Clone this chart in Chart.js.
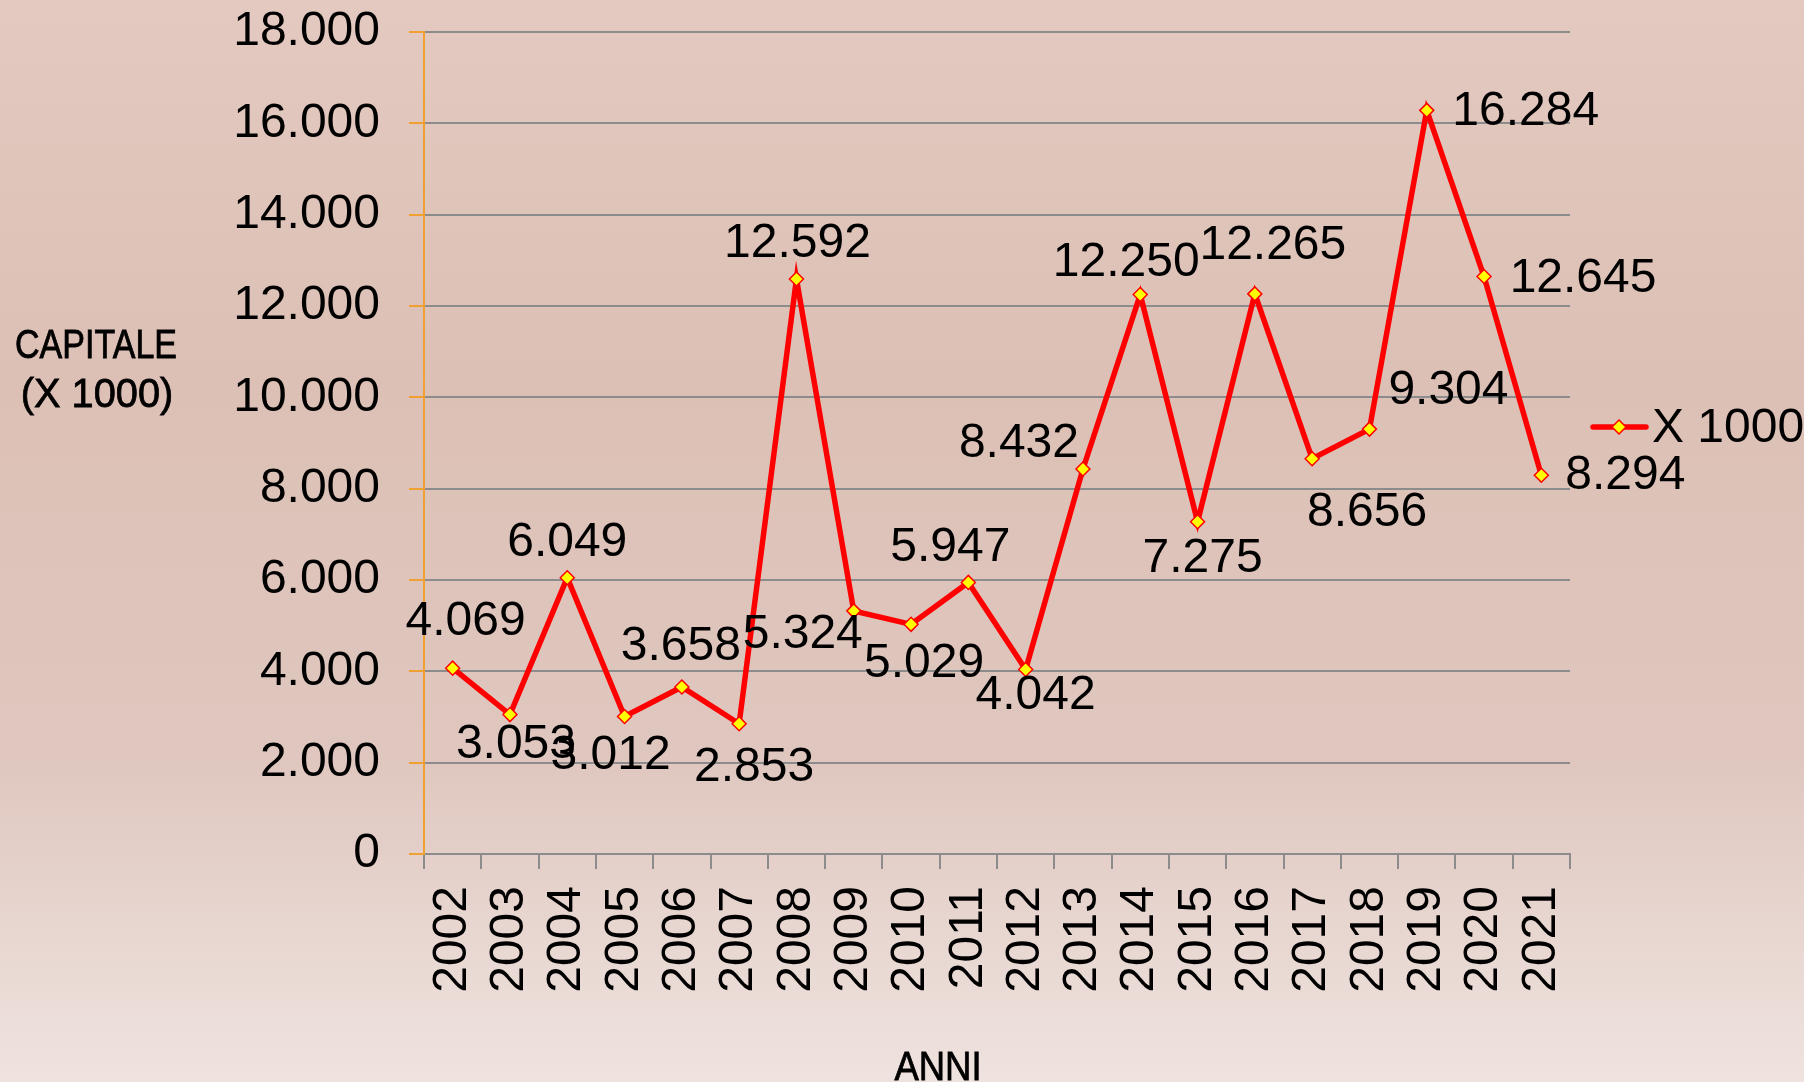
<!DOCTYPE html>
<html>
<head>
<meta charset="utf-8">
<script src="https://cdn.jsdelivr.net/npm/chart.js@4.4.1/dist/chart.umd.min.js"></script>
<style>
  html, body { margin: 0; padding: 0; background: #e6d3cd; }
  canvas { display: block; }
</style>
</head>
<body>
<canvas id="capitale-chart" width="1804" height="1082"></canvas>
<script>
// Dati
var anni = ['2002', '2003', '2004', '2005', '2006', '2007', '2008', '2009', '2010', '2011',
            '2012', '2013', '2014', '2015', '2016', '2017', '2018', '2019', '2020', '2021'];
var capitale = [4069, 3053, 6049, 3012, 3658, 2853, 12592, 5324, 5029, 5947,
                4042, 8432, 12250, 7275, 12265, 8656, 9304, 16284, 12645, 8294];
var serieLabel = 'X 1000';
var yTitle = ['CAPITALE', '(X 1000)'];
var xTitle = 'ANNI';

// offset delle etichette rispetto al punto (px)
var labelOffsets = [
  [13, -46], [6, 30], [0, -35], [-14, 39], [-1, -40], [15, 44], [1, -35], [-51, 24], [13, 39], [-18, -35],
  [10, 26], [-64, -25], [-14, -32], [5, 37], [18, -48], [55, 54], [79, -38], [99, 1], [99, 2], [84, 1]
];

var mainFont = '"Liberation Sans", Arial, sans-serif';

function fmt(v) {
  return String(Math.round(v)).replace(/\B(?=(\d{3})+(?!\d))/g, '.');
}

function diamond(ctx, x, y, r) {
  ctx.beginPath();
  ctx.moveTo(x - r, y);
  ctx.lineTo(x, y - r);
  ctx.lineTo(x + r, y);
  ctx.lineTo(x, y + r);
  ctx.closePath();
  ctx.fillStyle = '#ffff00';
  ctx.fill();
  ctx.lineWidth = 1.5;
  ctx.strokeStyle = '#ff0000';
  ctx.stroke();
}

// testo stretto (titoli assi)
function narrowText(ctx, txt, x, y, sx) {
  ctx.save();
  ctx.translate(x, y);
  ctx.scale(sx, 1);
  ctx.fillText(txt, 0, 0);
  ctx.lineWidth = 0.8;
  ctx.strokeStyle = '#000';
  ctx.strokeText(txt, 0, 0);
  ctx.restore();
}

// sfondo sfumato
var sfondo = {
  id: 'sfondo',
  beforeDraw: function (chart) {
    var ctx = chart.ctx;
    var g = ctx.createLinearGradient(0, 0, 0, chart.height);
    g.addColorStop(0, '#e3c9c0');
    g.addColorStop(0.35, '#dcc0b5');
    g.addColorStop(0.7, '#dfc7bf');
    g.addColorStop(1, '#efe3df');
    ctx.save();
    ctx.fillStyle = g;
    ctx.fillRect(0, 0, chart.width, chart.height);
    ctx.restore();
  }
};

// etichette valori, titoli assi e legenda
var extra = {
  id: 'extra',
  afterDatasetsDraw: function (chart) {
    var ctx = chart.ctx;
    var meta = chart.getDatasetMeta(0);
    ctx.save();
    ctx.fillStyle = '#000';
    ctx.font = '48px ' + mainFont;
    ctx.textAlign = 'center';
    ctx.textBaseline = 'middle';
    meta.data.forEach(function (pt, i) {
      var o = labelOffsets[i];
      ctx.fillText(fmt(capitale[i]), pt.x + o[0], pt.y + o[1]);
    });

    // titolo asse y
    ctx.textBaseline = 'alphabetic';
    ctx.font = '41px ' + mainFont;
    narrowText(ctx, yTitle[0], 96, 358, 0.83);
    narrowText(ctx, yTitle[1], 97, 407, 0.97);
    // titolo asse x
    narrowText(ctx, xTitle, 938, 1080, 0.89);

    // legenda
    ctx.textBaseline = 'middle';
    ctx.beginPath();
    ctx.moveTo(1593, 427);
    ctx.lineTo(1646, 427);
    ctx.lineWidth = 5.5;
    ctx.strokeStyle = '#ff0000';
    ctx.lineCap = 'round';
    ctx.stroke();
    diamond(ctx, 1619, 427, 7);
    ctx.fillStyle = '#000';
    ctx.font = '48px ' + mainFont;
    ctx.textAlign = 'left';
    ctx.fillText(serieLabel, 1652, 429);
    ctx.restore();
  }
};

var config = {
  type: 'line',
  data: {
    labels: anni,
    datasets: [{
      label: serieLabel,
      data: capitale,
      borderColor: '#ff0000',
      borderWidth: 5.5,
      tension: 0,
      pointStyle: 'rectRot',
      pointRadius: 7,
      pointBackgroundColor: '#ffff00',
      pointBorderColor: '#ff0000',
      pointBorderWidth: 1.5
    }]
  },
  options: {
    responsive: false,
    animation: false,
    layout: { padding: { left: 0, right: 234, top: 32, bottom: 0 } },
    plugins: {
      legend: { display: false },
      tooltip: { enabled: false }
    },
    scales: {
      x: {
        offset: true,
        grid: {
          offset: true,
          drawOnChartArea: false,
          drawTicks: true,
          tickLength: 15,
          color: '#8c8c8c',
          lineWidth: 2
        },
        border: { color: '#8c8c8c', width: 2 },
        ticks: {
          color: '#000',
          font: { family: mainFont, size: 48 },
          minRotation: 90,
          maxRotation: 90,
          autoSkip: false,
          padding: 17
        },
        afterFit: function (s) { s.height = 228; s.paddingLeft = 0; s.paddingRight = 0; }
      },
      y: {
        min: 0,
        max: 18000,
        grid: {
          color: '#8c8c8c',
          tickColor: '#f0a030',
          lineWidth: 2,
          tickLength: 15
        },
        border: { color: '#f0a030', width: 2 },
        ticks: {
          stepSize: 2000,
          color: '#000',
          padding: 29,
          font: { family: mainFont, size: 48 },
          callback: function (v) { return fmt(v); }
        },
        afterFit: function (s) { s.width = 424; s.paddingTop = 0; s.paddingBottom = 0; }
      }
    }
  },
  plugins: [sfondo, extra]
};

var capitaleChart = new Chart(document.getElementById('capitale-chart'), config);
</script>
</body>
</html>
